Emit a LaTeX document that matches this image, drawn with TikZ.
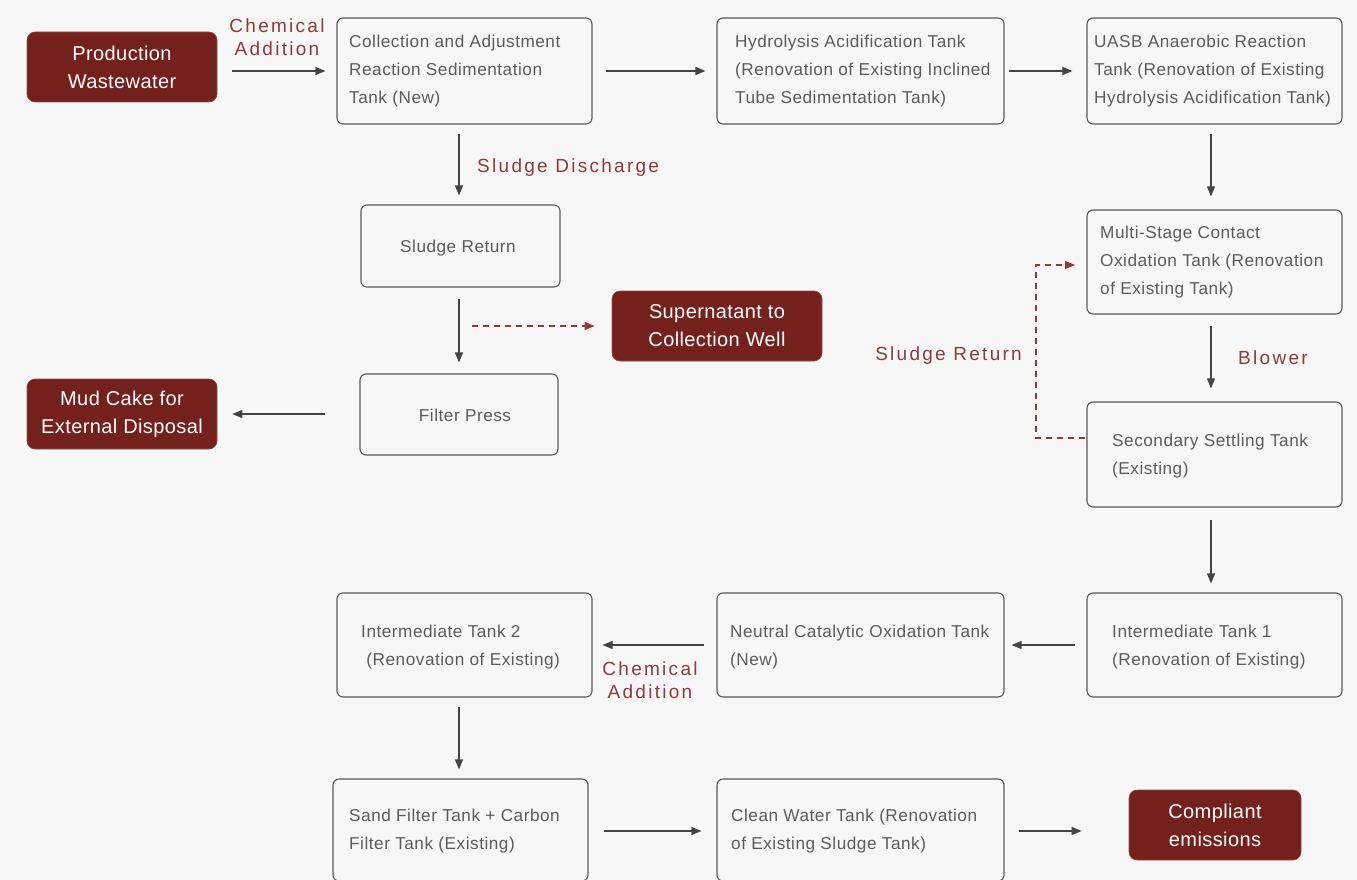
\documentclass[tikz,border=0pt]{standalone}
\usepackage{fontspec}
\setmainfont{Liberation Sans}
\newfontfamily\lblfont[LetterSpace=12]{Liberation Sans}
\newfontfamily\boxfont[LetterSpace=3]{Liberation Sans}
\newfontfamily\termfont[LetterSpace=2]{Liberation Sans}
\usetikzlibrary{arrows.meta,calc}
\definecolor{bgc}{HTML}{F7F7F7}
\definecolor{darkred}{HTML}{74201D}
\definecolor{lblred}{HTML}{8E3B3B}
\definecolor{edge}{HTML}{5A5A5A}
\definecolor{txt}{HTML}{5C5C5C}
\definecolor{arr}{HTML}{444444}
\begin{document}
\begin{tikzpicture}[x=1pt,y=-1pt,
  box/.style={draw=edge, line width=1.1pt, rounded corners=6pt, fill=bgc, inner sep=0pt},
  term/.style={fill=darkred, draw=darkred!80!white, line width=0.6pt, rounded corners=8pt, inner sep=0pt,
    text=white, align=center, font=\termfont\fontsize{20}{28}\selectfont},
  boxtext/.style={text=txt, align=left, inner sep=0pt, font=\boxfont\fontsize{17.2}{28}\selectfont},
  lbl/.style={text=lblred, align=center, inner sep=0pt, font=\lblfont\fontsize{19}{22.5}\selectfont},
  flow/.style={draw=arr, line width=1.1pt, -{Triangle[length=10pt,width=8pt]}},
  back/.style={draw=lblred, line width=1.1pt, dash pattern=on 6pt off 5pt, -{Triangle[length=10pt,width=8pt]}}
]
% canvas
\fill[bgc] (0,0) rectangle (1357,880);
\useasboundingbox (0,0) rectangle (1357,880);

% terminals
\node[term, minimum width=190pt, minimum height=70pt] (prod) at (122,67) {Production\\Wastewater};
\node[term, minimum width=210pt, minimum height=70pt] (super) at (717,326) {Supernatant to\\Collection Well};
\node[term, minimum width=190pt, minimum height=70pt] (mud) at (122,414) {Mud Cake for\\External Disposal};
\node[term, minimum width=172pt, minimum height=70pt] (comp) at (1215,825) {Compliant\\emissions};

% process tanks
\node[box, minimum width=255pt, minimum height=106pt] (coll) at (464.5,71) {};
\node[boxtext, anchor=west] (collt) at (349,71) {Collection and Adjustment\\Reaction Sedimentation\\Tank (New)};
\node[box, minimum width=287pt, minimum height=106pt] (hyd) at (860.5,71) {};
\node[boxtext, anchor=west] (hydt) at (735,71) {Hydrolysis Acidification Tank\\(Renovation of Existing Inclined\\Tube Sedimentation Tank)};
\node[box, minimum width=255pt, minimum height=106pt] (uasb) at (1214.5,71) {};
\node[boxtext, anchor=west] (uasbt) at (1094,71) {UASB Anaerobic Reaction\\Tank (Renovation of Existing\\Hydrolysis Acidification Tank)};

\node[box, minimum width=199pt, minimum height=82pt] (sret) at (460.5,246) {};
\node[boxtext] (srett) at (458,248) {Sludge Return};
\node[box, minimum width=198pt, minimum height=81pt] (fpress) at (459,414.5) {};
\node[boxtext] (fpresst) at (465,415) {Filter Press};

\node[box, minimum width=255pt, minimum height=104pt] (multi) at (1214.5,262) {};
\node[boxtext, anchor=west] (multit) at (1100,262) {Multi-Stage Contact\\Oxidation Tank (Renovation\\of Existing Tank)};
\node[box, minimum width=255pt, minimum height=105pt] (sec) at (1214.5,454.5) {};
\node[boxtext, anchor=west] (sect) at (1112,456) {Secondary Settling Tank\\(Existing)};

\node[box, minimum width=255pt, minimum height=104pt] (int1) at (1214.5,645) {};
\node[boxtext, anchor=west] (int1t) at (1112,647) {Intermediate Tank 1\\(Renovation of Existing)};
\node[box, minimum width=287pt, minimum height=104pt] (neut) at (860.5,645) {};
\node[boxtext, anchor=west] (neutt) at (730,647) {Neutral Catalytic Oxidation Tank\\(New)};
\node[box, minimum width=255pt, minimum height=104pt] (int2) at (464.5,645) {};
\node[boxtext, anchor=west] (int2t) at (361,647) {Intermediate Tank 2\\\ (Renovation of Existing)};

\node[box, minimum width=255pt, minimum height=102pt] (sand) at (460.5,830) {};
\node[boxtext, anchor=west] (sandt) at (349,831) {Sand Filter Tank + Carbon\\Filter Tank (Existing)};
\node[box, minimum width=287pt, minimum height=102pt] (clean) at (860.5,830) {};
\node[boxtext, anchor=west] (cleant) at (731,831) {Clean Water Tank (Renovation\\of Existing Sludge Tank)};

% main flow
\draw[flow, shorten <=15pt, shorten >=11pt] (prod.east |- coll.west) -- (coll.west);
\draw[flow, shorten <=13pt, shorten >=11pt] (coll.east) -- (hyd.west);
\draw[flow, shorten <=4pt, shorten >=14pt] (hyd.east) -- (uasb.west);
\draw[flow, shorten <=9pt, shorten >=9pt] (coll.south -| sret.north) ++(-1.5,0) coordinate (c1) -- (c1 |- sret.north);
\draw[flow, shorten <=11pt, shorten >=11pt] (sret.south) ++(-1.5,0) coordinate (c2) -- (c2 |- fpress.north);
\draw[flow, shorten <=34pt, shorten >=15pt] (fpress.west |- mud.east) -- (mud.east);
\draw[flow, shorten <=9pt, shorten >=13pt] (uasb.south) ++(-3.5,0) coordinate (c3) -- (c3 |- multi.north);
\draw[flow, shorten <=11pt, shorten >=13pt] (multi.south) ++(-3.5,0) coordinate (c4) -- (c4 |- sec.north);
\draw[flow, shorten <=12pt, shorten >=9pt] (sec.south) ++(-3.5,0) coordinate (c5) -- (c5 |- int1.north);
\draw[flow, shorten <=11pt, shorten >=7pt] (int1.west) -- (neut.east);
\draw[flow, shorten <=12pt, shorten >=10pt] (neut.west) -- (int2.east);
\draw[flow, shorten <=9pt, shorten >=9pt] (int2.south) ++(-5.5,0) coordinate (c6) -- (c6 |- sand.north);
\draw[flow, shorten <=15pt, shorten >=15pt] (sand.east) ++(0,1) coordinate (c7) -- (c7 -| clean.west);
\draw[flow, shorten <=14pt, shorten >=47pt] (clean.east) ++(0,1) coordinate (c8) -- (c8 -| comp.west);

% return lines
\coordinate (supstart) at (472,326);
\draw[back, shorten >=17pt] (supstart) -- (super.west);
\coordinate (retstart) at (1085,438);
\coordinate (retend) at (1075,265);
\draw[back] (retstart) -- (1036,438) |- (retend);

% labels
\node[lbl] (l1) at (277,37) {Chemical\\Addition};
\node[lbl, anchor=west] (l2) at (477,168) {Sludge Discharge};
\node[lbl, anchor=east] (l3) at (1022,356) {Sludge Return};
\node[lbl, anchor=west] (l4) at (1238,358) {Blower};
\node[lbl] (l5) at (650,680) {Chemical\\Addition};
\end{tikzpicture}
\end{document}
